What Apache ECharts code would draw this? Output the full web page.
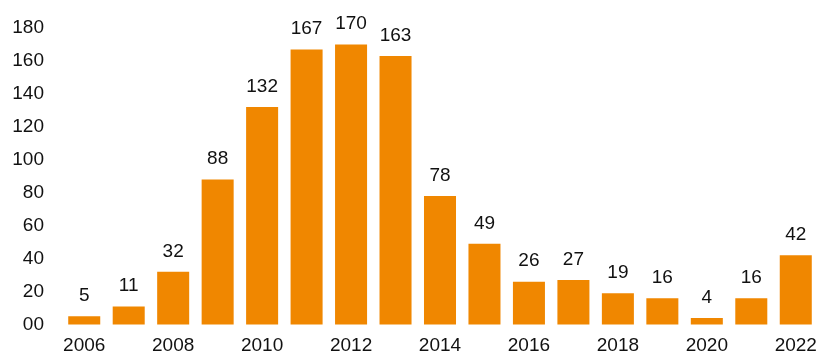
<!DOCTYPE html>
<html><head><meta charset="utf-8">
<script src="https://cdn.jsdelivr.net/npm/echarts@6/dist/echarts.min.js"></script>
<style>html,body{margin:0;padding:0;background:#fff}#c{width:822px;height:358px}</style>
</head><body><div id="c"></div>
<script>
const years = ['2006','2007','2008','2009','2010','2011','2012','2013','2014','2015','2016','2017','2018','2019','2020','2021','2022'];
const values = [5,11,32,88,132,167,170,163,78,49,26,27,19,16,4,16,42];
const yTicks = {0:'00',20:'20',40:'40',60:'60',80:'80',100:'100',120:'120',140:'140',160:'160',180:'180'};
const chart = echarts.init(document.getElementById('c'), null, {renderer:'canvas'});
const font = 'Liberation Sans, Arial';
chart.setOption({
  animation:false,
  grid:{left:62,right:4,top:28,bottom:33.5,containLabel:false},
  xAxis:{type:'category',data:years,axisLine:{show:false},axisTick:{show:false},
    axisLabel:{interval:1,color:'#111',fontFamily:font,fontSize:19,margin:12}},
  yAxis:{type:'value',min:0,max:180,interval:20,splitLine:{show:false},axisLine:{show:false},axisTick:{show:false},
    axisLabel:{color:'#111',fontFamily:font,fontSize:19,margin:18,formatter:v=>yTicks[v]}},
  series:[{type:'bar',data:values,barWidth:'72%',itemStyle:{color:'#F08700'},
    label:{show:true,position:'top',distance:11,color:'#111',fontFamily:font,fontSize:19}}]
});
</script></body></html>
